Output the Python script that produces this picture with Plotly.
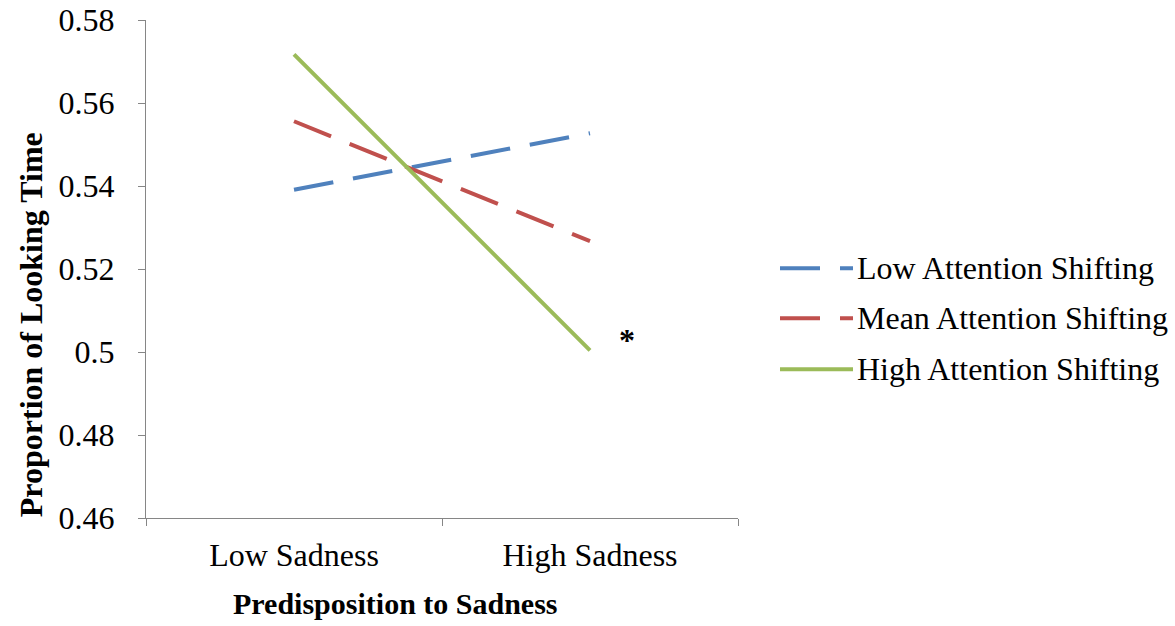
import plotly.graph_objects as go

categories = ["Low Sadness", "High Sadness"]
series_names = ["Low Attention Shifting", "Mean Attention Shifting", "High Attention Shifting"]
low_as = [0.5391, 0.5527]
mean_as = [0.5556, 0.5267]
high_as = [0.5717, 0.5004]
y_ticks = [0.46, 0.48, 0.50, 0.52, 0.54, 0.56, 0.58]
y_tick_labels = ["0.46", "0.48", "0.5", "0.52", "0.54", "0.56", "0.58"]
x_title = "Predisposition to Sadness"
y_title = "Proportion of Looking Time"

colors = ["#4F81BD", "#C0504D", "#9BBB59"]
dashes = ["40px,20px", "40px,20px", "solid"]
values = [low_as, mean_as, high_as]

FONT = "Liberation Serif"
# plot area in page px: x 146..738, y 19.5..518
PX0, PX1, PY0, PY1 = 146, 738, 19.5, 518


def px(x):
    return (x - PX0) / (PX1 - PX0)


def py(y):
    return (PY1 - y) / (PY1 - PY0)


fig = go.Figure()
for name, vals, col, dash in zip(series_names, values, colors, dashes):
    fig.add_trace(go.Scatter(x=categories, y=vals, mode="lines", name=name,
                             line=dict(color=col, width=4, dash=dash),
                             showlegend=False))

# manual legend (Excel-style long samples)
leg_y = [268, 318, 369]
for name, col, dash, yy in zip(series_names, colors, dashes, leg_y):
    fig.add_shape(type="line", xref="paper", yref="paper", x0=px(780), x1=px(853),
                  y0=py(yy), y1=py(yy), line=dict(color=col, width=4, dash=dash))
    fig.add_annotation(xref="paper", yref="paper", x=px(855), y=py(yy),
                       text=name, showarrow=False, xanchor="left", yanchor="middle",
                       font=dict(family=FONT, size=32, color="black"))

fig.add_annotation(xref="paper", yref="y", x=px(627), y=0.5028, text="<b>*</b>",
                   showarrow=False, xanchor="center", yanchor="middle",
                   font=dict(family=FONT, size=32, color="black"))

# axis titles (Excel places them off-centre)
fig.add_annotation(xref="paper", yref="paper", x=px(395), y=py(604), text=f"<b>{x_title}</b>",
                   showarrow=False, xanchor="center", yanchor="middle",
                   font=dict(family=FONT, size=30, color="black"))
fig.add_annotation(xref="paper", yref="paper", x=px(31), y=py(325), text=f"<b>{y_title}</b>",
                   showarrow=False, xanchor="center", yanchor="middle", textangle=-90,
                   font=dict(family=FONT, size=32, color="black"))

fig.update_layout(
    width=1175, height=626,
    margin=dict(l=146, r=437, t=19.5, b=108),
    paper_bgcolor="white", plot_bgcolor="white",
    font=dict(family=FONT, size=32, color="black"),
    xaxis=dict(type="category", range=[-0.5, 1.5], showline=True, linecolor="#868686", linewidth=1,
               ticks="outside", tickson="boundaries", ticklen=7, tickcolor="#868686",
               showgrid=False, zeroline=False, automargin=False, ticklabelstandoff=9,
               ticklabeloverflow="allow",
               tickfont=dict(family=FONT, size=32, color="black")),
    yaxis=dict(range=[0.46, 0.58], tickvals=y_ticks, ticktext=y_tick_labels,
               showline=True, linecolor="#868686", linewidth=1,
               ticks="outside", ticklen=7, tickcolor="#868686",
               showgrid=False, zeroline=False, automargin=False, ticklabelstandoff=17,
               ticklabeloverflow="allow",
               tickfont=dict(family=FONT, size=32, color="black")),
)

fig.write_html("out.html", config={"displayModeBar": False},
               post_script="document.body.style.margin='0';document.body.style.overflow='hidden';")
